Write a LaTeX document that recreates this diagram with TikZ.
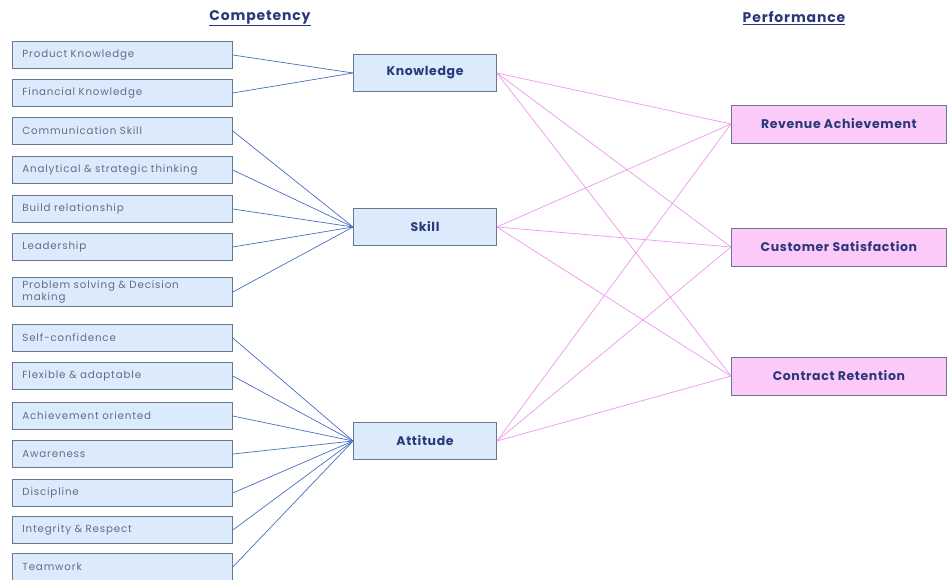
\documentclass[tikz,border=0pt]{standalone}
\usepackage{fontspec}
\setmainfont{Poppins}
\usetikzlibrary{positioning, calc}
\definecolor{compfill}{RGB}{220,235,252}
\definecolor{compdraw}{RGB}{105,118,148}
\definecolor{perffill}{RGB}{252,202,248}
\definecolor{navytext}{RGB}{42,56,122}
\definecolor{greytext}{RGB}{98,108,138}
\definecolor{blueline}{RGB}{72,110,192}
\definecolor{pinkline}{RGB}{238,150,238}

\begin{document}
\begin{tikzpicture}[
  x=1pt,y=1pt,
  item/.style={
    rectangle, line width=0.8pt,
    draw=compdraw, fill=compfill,
    text width=200pt, inner xsep=10pt, minimum height=27pt,
    align=left, anchor=west,
    font=\fontsize{10.3}{12}\selectfont\addfontfeatures{LetterSpace=8}, text=greytext
  },
  group/.style={
    rectangle, line width=0.8pt,
    draw=compdraw, fill=compfill,
    minimum width=143pt, minimum height=37pt,
    font=\bfseries\fontsize{12.5}{14}\selectfont\addfontfeatures{LetterSpace=5}, text=navytext
  },
  outcome/.style={
    rectangle, line width=0.8pt,
    draw=compdraw, fill=perffill,
    minimum width=215pt, minimum height=38pt, anchor=west,
    font=\bfseries\fontsize{12.5}{14}\selectfont\addfontfeatures{LetterSpace=5}, text=navytext
  },
  heading/.style={font=\bfseries\fontsize{14}{16}\selectfont\addfontfeatures{LetterSpace=6}, text=navytext},
  bline/.style={draw=blueline, line width=0.7pt},
  pline/.style={draw=pinkline, line width=0.7pt}
]
\useasboundingbox (0,0) rectangle (947,-580);

% ---- Headings ----
\node[heading] (hcomp) at (260,-18) {\underline{Competency}};
\node[heading] (hperf) at (794,-18) {\underline{Performance}};

% ---- Competency groups in the middle ----
\node[group] (know) at (425,-73)  {Knowledge};
\node[group] (skill) at (425,-227) {Skill};
\node[group] (att) at (425,-441)  {Attitude};

% ---- Performance on the right ----
\node[outcome] (rev) at (731,-124) {Revenue Achievement};
\node[outcome] (cust) at (731,-247) {Customer Satisfaction};
\node[outcome] (cont) at (731,-376) {Contract Retention};

% ---- Items on the left, each tied to its group ----
\foreach \n/\yy/\t/\g in {
  i1/55/{Product Knowledge}/know,
  i2/93/{Financial Knowledge}/know,
  i3/131/{Communication Skill}/skill,
  i4/170/{Analytical \& strategic thinking}/skill,
  i5/209/{Build relationship}/skill,
  i6/247/{Leadership}/skill,
  i7/292/{Problem solving \& Decision\\making}/skill,
  i8/338/{Self-confidence}/att,
  i9/376/{Flexible \& adaptable}/att,
  i10/416/{Achievement oriented}/att,
  i11/454/{Awareness}/att,
  i12/493/{Discipline}/att,
  i13/530/{Integrity \& Respect}/att,
  i14/567/{Teamwork}/att} {
  \node[item] (\n) at (12,-\yy) {\t};
  \draw[bline] (\n.east) -- (\g.west);
}

% ---- Every group feeds every outcome ----
\foreach \g in {know,skill,att} {
  \foreach \o in {rev,cust,cont} {
    \draw[pline] (\g.east) -- (\o.west);
  }
}

\end{tikzpicture}
\end{document}
